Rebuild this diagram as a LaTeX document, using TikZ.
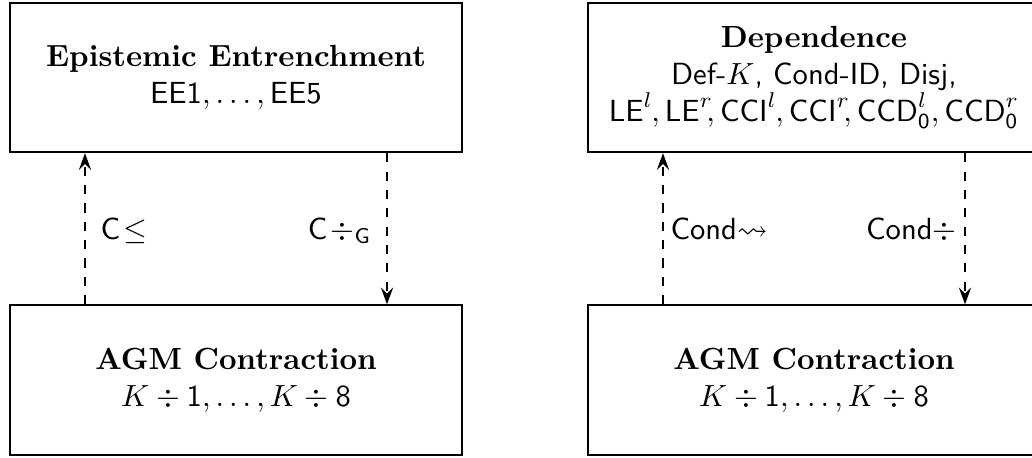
\documentclass[tikz,border=0pt]{standalone}
\usepackage{amsmath,amssymb}
\usetikzlibrary{arrows.meta}
\begin{document}
\begin{tikzpicture}[x=0.327pt,y=-0.327pt,
  block/.style={draw, line width=0.6pt, minimum width=147.8pt, minimum height=48.9pt,
    align=center, inner sep=0pt},
  link/.style={dashed, line width=0.6pt, -{Stealth[length=5.5pt,width=4pt,inset=2pt]}},
  lbl/.style={inner sep=0pt}]
\useasboundingbox (0,0) rectangle (1032,457);
\clip (0,0) rectangle (1032,457);

% left pair: entrenchment and contraction
\node[block] (ee) at (236,77.5)
  {\textbf{Epistemic Entrenchment}\\ $\mathsf{EE1},\ldots,\mathsf{EE5}$};
\node[block] (agmA) at (236,380)
  {\textbf{AGM Contraction}\\ $K\div\mathsf{1},\ldots,K\div\mathsf{8}$};

% right pair: dependence and contraction
\node[block] (dep) at (814,77.5)
  {\textbf{Dependence}\\
   \textsf{Def-}$K$\textsf{, Cond-ID, Disj,}\\
   $\mathsf{LE}^l\mkern-1mu, \mathsf{LE}^r\mkern-4mu, \mathsf{CCI}^l\mkern-1mu, \mathsf{CCI}^r\mkern-4mu,
    \mathsf{CCD}^l_{\mathsf{0}}, \mathsf{CCD}^r_{\mathsf{0}}$};
\node[block] (agmB) at (814,380)
  {\textbf{AGM Contraction}\\ $K\div\mathsf{1},\ldots,K\div\mathsf{8}$};

% connector columns
\coordinate (c1) at (85,0);
\coordinate (c2) at (387,0);
\coordinate (c3) at (663,0);
\coordinate (c4) at (965,0);

\draw[link] (agmA.north -| c1) -- (ee.south -| c1);
\draw[link] (ee.south -| c2) -- (agmA.north -| c2);
\draw[link] (agmB.north -| c3) -- (dep.south -| c3);
\draw[link] (dep.south -| c4) -- (agmB.north -| c4);

% connector labels
\node[lbl, anchor=base west] (l1) at (100,239) {$\mathsf{C}\mkern2mu{\leq}$};
\node[lbl, anchor=base east] (l2) at (372,239) {$\mathsf{C}\mkern2mu{\div}_{\mathsf{G}}$};
\node[lbl, anchor=base west] (l3) at (670,239) {$\mathsf{Cond}{\rightsquigarrow}$};
\node[lbl, anchor=base east] (l4) at (957,239) {$\mathsf{Cond}{\div}$};
\end{tikzpicture}
\end{document}
